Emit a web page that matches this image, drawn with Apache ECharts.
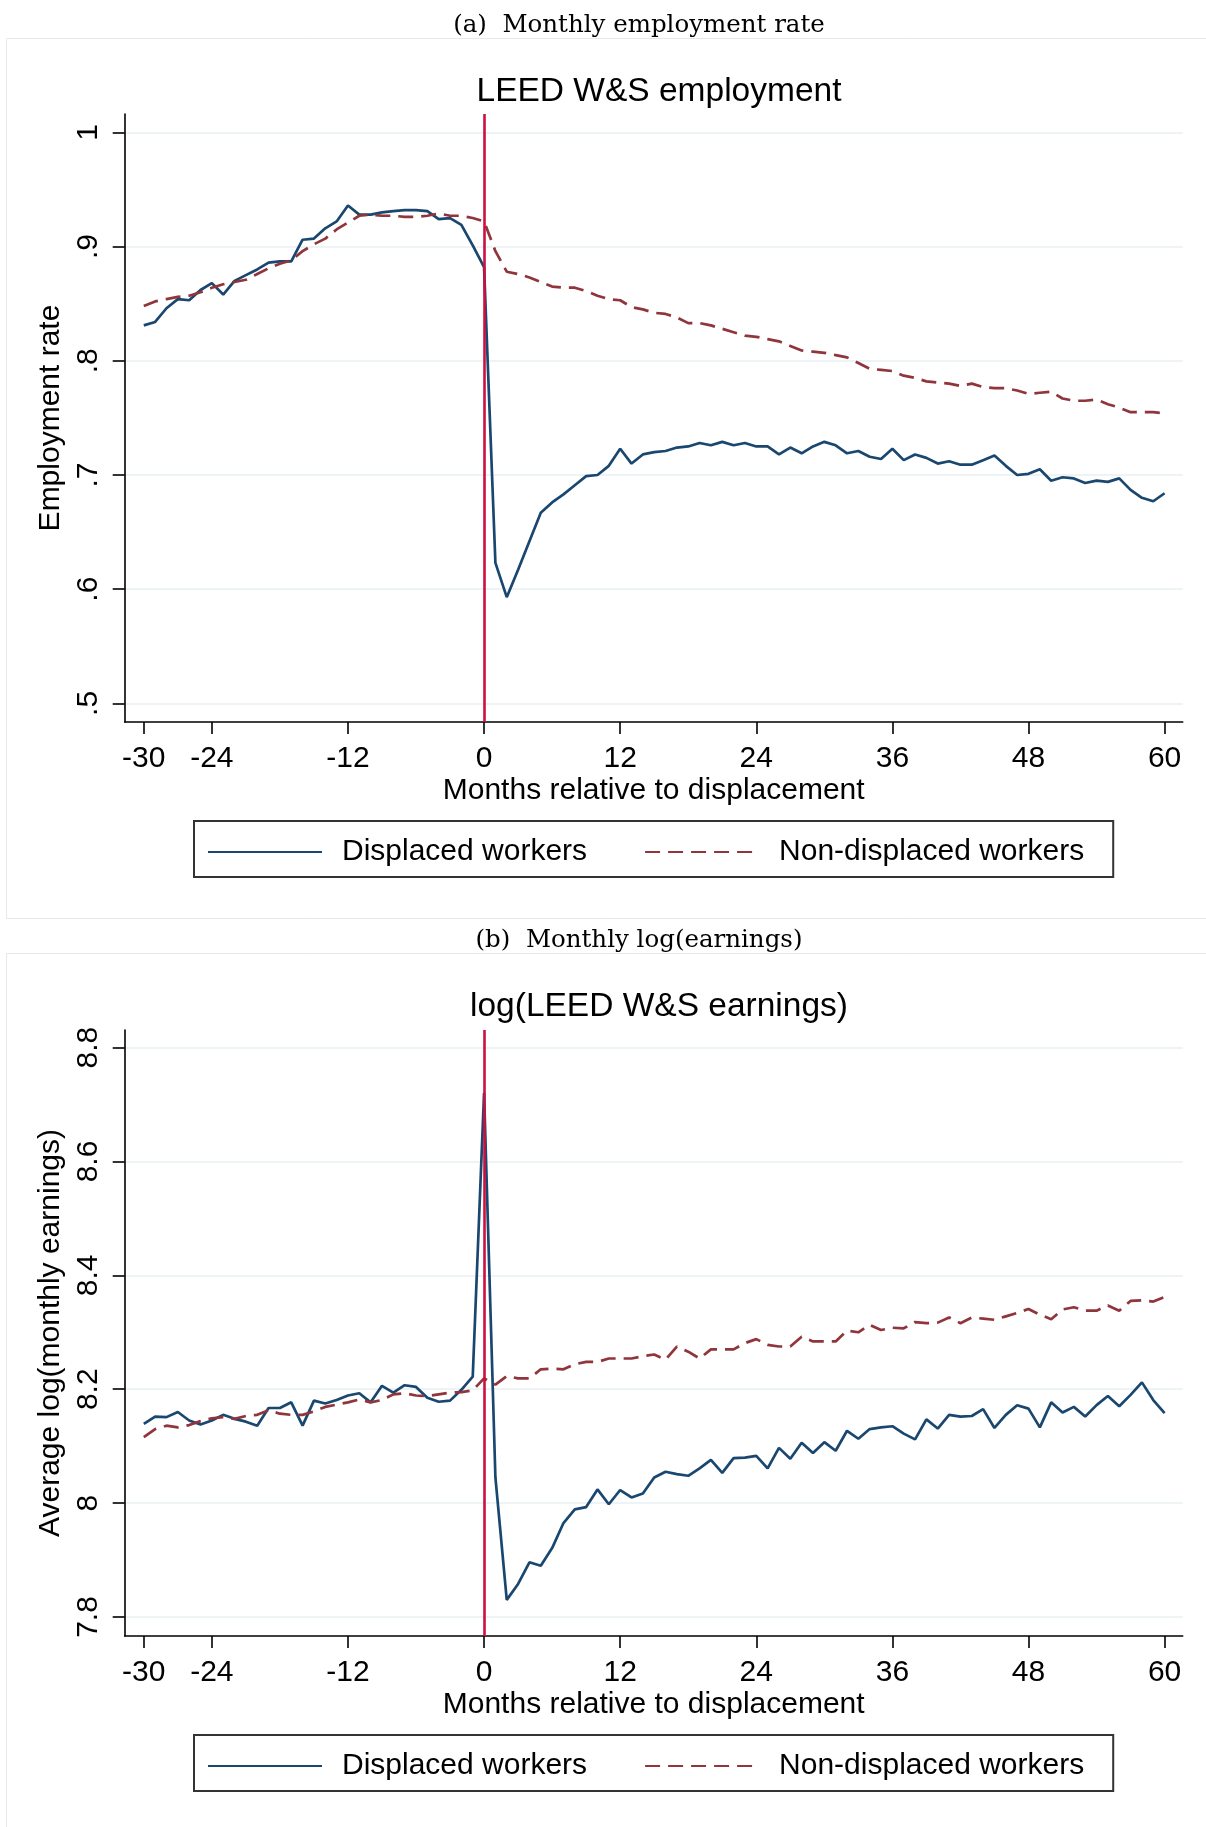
<!DOCTYPE html>
<html>
<head>
<meta charset="utf-8">
<script src="https://cdn.jsdelivr.net/npm/echarts@6/dist/echarts.min.js"></script>
<style>
  html, body { margin: 0; padding: 0; background: #ffffff; }
  #chart { width: 1206px; height: 1827px; }
</style>
</head>
<body>
<div id="chart"></div>
<script>
// ---------------- DATA ----------------
const months = [-30,-29,-28,-27,-26,-25,-24,-23,-22,-21,-20,-19,-18,-17,-16,-15,-14,-13,-12,-11,-10,-9,-8,-7,-6,-5,-4,-3,-2,-1,
  0,1,2,3,4,5,6,7,8,9,10,11,12,13,14,15,16,17,18,19,20,21,22,23,24,25,26,27,28,29,30,
  31,32,33,34,35,36,37,38,39,40,41,42,43,44,45,46,47,48,49,50,51,52,53,54,55,56,57,58,59,60];

const empDisplaced = [0.831,0.834,0.846,0.854,0.853,0.862,0.868,0.858,0.870,0.875,0.880,0.886,0.887,0.887,0.906,0.907,0.916,0.922,0.936,0.928,0.928,0.930,0.931,0.932,0.932,0.931,0.924,0.925,0.919,0.901,
  0.882,0.623,0.593,0.617,0.642,0.667,0.676,0.683,0.691,0.699,0.700,0.708,0.723,0.710,0.718,0.720,0.721,0.724,0.725,0.728,0.726,0.729,0.726,0.728,0.725,0.725,0.718,0.724,0.719,0.725,0.729,
  0.726,0.719,0.721,0.716,0.714,0.723,0.713,0.718,0.715,0.710,0.712,0.709,0.709,0.713,0.717,0.708,0.700,0.701,0.705,0.695,0.698,0.697,0.693,0.695,0.694,0.697,0.687,0.680,0.677,0.684];

const empNonDisplaced = [0.848,0.852,0.854,0.856,0.857,0.860,0.864,0.867,0.869,0.871,0.876,0.881,0.885,0.888,0.896,0.902,0.907,0.915,0.921,0.927,0.928,0.927,0.927,0.926,0.926,0.927,0.929,0.927,0.927,0.925,
  0.922,0.896,0.878,0.876,0.873,0.869,0.865,0.864,0.864,0.861,0.857,0.854,0.853,0.847,0.845,0.842,0.841,0.838,0.833,0.833,0.831,0.828,0.825,0.822,0.821,0.819,0.817,0.813,0.809,0.808,0.807,
  0.805,0.803,0.798,0.793,0.792,0.791,0.787,0.785,0.782,0.781,0.780,0.778,0.780,0.777,0.776,0.776,0.774,0.771,0.772,0.773,0.767,0.765,0.765,0.766,0.762,0.759,0.755,0.755,0.755,0.754];

const earnDisplaced = [8.139,8.152,8.151,8.160,8.145,8.138,8.145,8.155,8.148,8.143,8.136,8.167,8.167,8.177,8.136,8.180,8.175,8.181,8.189,8.193,8.177,8.206,8.194,8.207,8.204,8.185,8.178,8.180,8.199,8.222,
  8.720,8.045,7.830,7.858,7.896,7.890,7.921,7.965,7.989,7.993,8.024,7.998,8.023,8.010,8.017,8.045,8.055,8.051,8.048,8.061,8.076,8.053,8.079,8.080,8.083,8.061,8.097,8.078,8.106,8.088,8.107,
  8.092,8.127,8.113,8.130,8.133,8.135,8.122,8.112,8.147,8.131,8.155,8.152,8.153,8.165,8.132,8.155,8.172,8.166,8.133,8.177,8.159,8.169,8.152,8.172,8.188,8.170,8.190,8.212,8.181,8.158];

const earnNonDisplaced = [8.116,8.130,8.136,8.133,8.137,8.144,8.149,8.151,8.148,8.153,8.155,8.163,8.157,8.155,8.155,8.161,8.169,8.173,8.177,8.182,8.177,8.181,8.191,8.193,8.189,8.188,8.191,8.194,8.195,8.198,
  8.219,8.208,8.223,8.219,8.219,8.235,8.236,8.235,8.244,8.248,8.248,8.254,8.254,8.254,8.258,8.261,8.252,8.275,8.266,8.254,8.270,8.270,8.270,8.281,8.288,8.278,8.275,8.275,8.292,8.284,8.284,
  8.284,8.303,8.300,8.313,8.304,8.308,8.307,8.318,8.316,8.317,8.326,8.316,8.326,8.324,8.322,8.328,8.334,8.341,8.331,8.323,8.340,8.344,8.338,8.338,8.347,8.338,8.355,8.356,8.354,8.362];

const xTicks = [-30,-24,-12,0,12,24,36,48,60];
const yTicksEmp = [0.5,0.6,0.7,0.8,0.9,1];
const yLabelsEmp = ['.5','.6','.7','.8','.9','1'];
const yTicksEarn = [7.8,8,8.2,8.4,8.6,8.8];
const yLabelsEarn = ['7.8','8','8.2','8.4','8.6','8.8'];
const eventMonth = [0];

const seriesNames = ['Displaced workers','Non-displaced workers'];
const captions = ['(a)  Monthly employment rate','(b)  Monthly log(earnings)'];
const panelTitles = ['LEED W&S employment','log(LEED W&S earnings)'];
const yNames = ['Employment rate','Average log(monthly earnings)'];
const xName = 'Months relative to displacement';

// ---------------- STYLE ----------------
const SANS = 'Liberation Sans, Arial, Helvetica, sans-serif';
const SERIF = 'DejaVu Serif, Liberation Serif, serif';
const BLUE = '#1a476f';
const RED = '#90353b';
const VLINE = '#cc1040';
const GRIDC = '#e8f0f2';

function pairs(xs, ys){ return xs.map((x,i)=>[x, ys[i]]); }
function labelFmt(ticks, labels){
  return function(v){
    for (let i=0;i<ticks.length;i++){ if (Math.abs(ticks[i]-v) < 1e-6) return labels[i]; }
    return '';
  };
}

const chart = echarts.init(document.getElementById('chart'), null, {renderer:'canvas'});

const grids = [
  {left: 124.7, top: 114, width: 1058, height: 608},
  {left: 124.7, top: 1030, width: 1058, height: 606}
];

function makeX(gi){
  return {
    type:'value', gridIndex: gi, min: -31.684, max: 61.596,
    axisLine:{show:true, onZero:false, lineStyle:{color:'#000', width:1.6}},
    axisTick:{show:true, length:12, customValues: xTicks, lineStyle:{color:'#000', width:1.6}},
    axisLabel:{customValues: xTicks, fontSize:30, fontFamily:SANS, color:'#000', margin:22},
    splitLine:{show:false},
    name: xName, nameLocation:'middle', nameGap:53.5,
    nameTextStyle:{fontSize:30, fontFamily:SANS, color:'#000'}
  };
}
function makeY(gi, min, max, ticks, labels, name){
  return {
    type:'value', gridIndex: gi, min: min, max: max,
    axisLine:{show:true, onZero:false, lineStyle:{color:'#000', width:1.6}},
    axisTick:{show:true, length:12, customValues: ticks, lineStyle:{color:'#000', width:1.6}},
    axisLabel:{customValues: ticks, rotate:90, fontSize:30, fontFamily:SANS, color:'#000', margin:21,
               formatter: labelFmt(ticks, labels)},
    splitLine:{show:true, lineStyle:{color:GRIDC, width:1.6}},
    name: name, nameLocation:'middle', nameGap:48, nameRotate:90,
    nameTextStyle:{fontSize:30, fontFamily:SANS, color:'#000'}
  };
}

function makeLegend(top){
  return {
    left: 194, top: top, orient:'horizontal',
    data: seriesNames,
    padding:[15, 29, 9, 13],
    itemGap: 57, itemWidth: 114, itemHeight: 14,
    borderColor:'#333', borderWidth: 2,
    selectedMode: false,
    itemStyle:{opacity:0, borderWidth:0},
    textStyle:{fontSize:30, fontFamily:SANS, color:'#000', lineHeight:32, padding:[0,0,0,15]}
  };
}

function lineSeries(name, xi, data, color, dashed, z){
  return {
    name: name, type:'line', xAxisIndex: xi, yAxisIndex: xi,
    data: data, symbol:'none', showSymbol:false, smooth:false, z: z,
    lineStyle:{color: color, width: 2.7, type: dashed ? [15, 8] : 'solid'},
    itemStyle:{color: color},
    emphasis:{disabled:true}, animation:false
  };
}
function vline(xi){
  return {
    name:'event', type:'line', xAxisIndex: xi, yAxisIndex: xi, data: [], z: 6, animation:false,
    markLine:{
      silent:true, symbol:['none','none'], animation:false,
      label:{show:false},
      lineStyle:{color: VLINE, width: 2.6, type:'solid'},
      data: eventMonth.map(v => ({xAxis: v}))
    }
  };
}

const option = {
  backgroundColor:'#ffffff',
  animation:false,
  graphic:[
    {type:'rect', shape:{x:6.5, y:38.5, width:1220, height:880}, style:{fill:'none', stroke:'#e3eaec', lineWidth:1}, silent:true},
    {type:'rect', shape:{x:6.5, y:953.5, width:1220, height:900}, style:{fill:'none', stroke:'#e3eaec', lineWidth:1}, silent:true}
  ],
  title:[
    {text: captions[0], left: 634, top: 21, textAlign:'center', textVerticalAlign:'middle',
     textStyle:{fontSize:24.5, fontWeight:'normal', fontFamily:SERIF, color:'#000'}},
    {text: panelTitles[0], left: 654, top: 87, textAlign:'center', textVerticalAlign:'middle',
     textStyle:{fontSize:33.5, fontWeight:'normal', fontFamily:SANS, color:'#000'}},
    {text: captions[1], left: 634, top: 936, textAlign:'center', textVerticalAlign:'middle',
     textStyle:{fontSize:24.5, fontWeight:'normal', fontFamily:SERIF, color:'#000'}},
    {text: panelTitles[1], left: 654, top: 1002, textAlign:'center', textVerticalAlign:'middle',
     textStyle:{fontSize:33.5, fontWeight:'normal', fontFamily:SANS, color:'#000'}}
  ],
  legend:[ makeLegend(821), makeLegend(1735) ],
  grid: grids,
  xAxis:[ makeX(0), makeX(1) ],
  yAxis:[
    makeY(0, 0.4837, 1.0161, yTicksEmp, yLabelsEmp, yNames[0]),
    makeY(1, 7.7666, 8.8309, yTicksEarn, yLabelsEarn, yNames[1])
  ],
  series:[
    lineSeries(seriesNames[0], 0, pairs(months, empDisplaced), BLUE, false, 3),
    lineSeries(seriesNames[1], 0, pairs(months, empNonDisplaced), RED, true, 4),
    vline(0),
    lineSeries(seriesNames[0], 1, pairs(months, earnDisplaced), BLUE, false, 3),
    lineSeries(seriesNames[1], 1, pairs(months, earnNonDisplaced), RED, true, 4),
    vline(1)
  ]
};
chart.setOption(option);
</script>
</body>
</html>
